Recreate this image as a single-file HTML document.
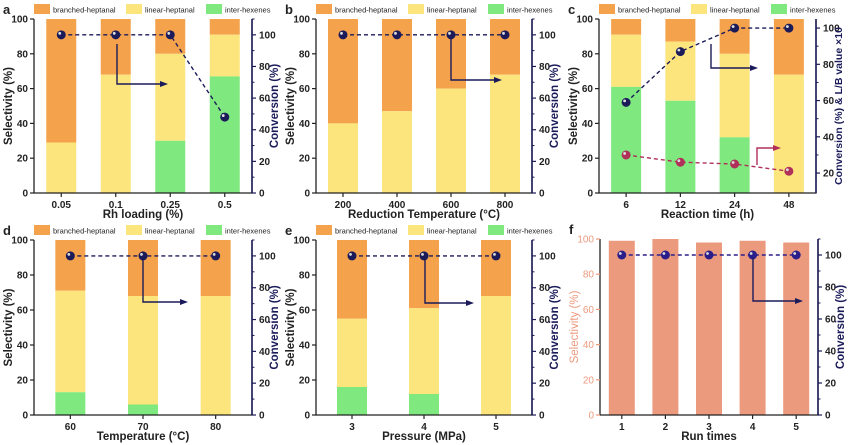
<!DOCTYPE html>
<html><head><meta charset="utf-8">
<style>
html,body{margin:0;padding:0;background:#fff;}
svg{display:block;font-family:"Liberation Sans",sans-serif;}
</style></head>
<body>
<svg id="fig" width="850" height="445" viewBox="0 0 850 445" xmlns="http://www.w3.org/2000/svg"></svg>
<script>
// Panel a
const aCats = ["0.05","0.1","0.25","0.5"];
const aInter = [0, 0, 30, 67];
const aLinear = [29, 68, 50, 24];
const aConv = [100, 100, 100, 48];
// Panel b
const bCats = ["200","400","600","800"];
const bInter = [0, 0, 0, 0];
const bLinear = [40, 47, 60, 68];
const bConv = [100, 100, 100, 100];
// Panel c
const cCats = ["6","12","24","48"];
const cInter = [61, 53, 32, 0];
const cLinear = [30, 34, 48, 68];
const cConv = [59, 87, 100, 100];
const cLB = [30, 26, 25, 21];
// Panel d
const dCats = ["60","70","80"];
const dInter = [13, 6, 0];
const dLinear = [58, 62, 68];
const dConv = [100, 100, 100];
// Panel e
const eCats = ["3","4","5"];
const eInter = [16, 12, 0];
const eLinear = [39, 49, 68];
const eConv = [100, 100, 100];
// Panel f
const fCats = ["1","2","3","4","5"];
const fSel = [99, 100, 98, 99, 98];
const fConv = [100, 100, 100, 100, 100];
const leftTicks = ["0","20","40","60","80","100"];
const rightTicks = ["0","20","40","60","80","100"];
const rightTicksC = ["20","40","60","80","100"];

const NS = "http://www.w3.org/2000/svg";
const svg = document.getElementById("fig");
function mk(tag, attrs, parent, text){
  const e = document.createElementNS(NS, tag);
  for (const k in attrs) e.setAttribute(k, attrs[k]);
  if (text !== undefined) e.textContent = text;
  (parent || svg).appendChild(e);
  return e;
}
const ORANGE = "#f5a24c", YELLOW = "#fbe57c", GREEN = "#7fe87e", NAVY = "#1b1b5a", SALMON = "#ec9a7e";

function panel(cfg){
  const g = mk("g", {});
  
  
  const {x0, x1, yT, yB} = cfg;
  const n = cfg.cats.length;
  const step = (x1 - x0) / n;
  const xc = i => x0 + (i + 0.5) * step;
  const yL = v => yB - (v / 100) * (yB - yT);
  const rMin = cfg.rMin, rMax = cfg.rMax;
  const yR = v => yB - (v - rMin) / (rMax - rMin) * (yB - yT);
  const bw = cfg.bw || 30;
  cfg.cats.forEach((c, i) => {
    if (cfg.single){
      const r = mk("rect", {x: xc(i) - bw/2, y: yL(cfg.single[i]), width: bw, height: yB - yL(cfg.single[i]), fill: SALMON}, g);
      
      
      return;
    }
    const inter = cfg.inter[i], lin = cfg.linear[i];
    const top = inter + lin;
    const r1 = mk("rect", {x: xc(i) - bw/2, y: yL(100), width: bw, height: yL(top) - yL(100), fill: ORANGE}, g);
    
    
    const r2 = mk("rect", {x: xc(i) - bw/2, y: yL(top), width: bw, height: yL(inter) - yL(top), fill: YELLOW}, g);
    
    
    if (inter > 0){
      const r3 = mk("rect", {x: xc(i) - bw/2, y: yL(inter), width: bw, height: yB - yL(inter), fill: GREEN}, g);
      
      
    }
  });
  const ax = mk("path", {d: `M${x0},${yT} V${yB} H${x1} V${yT}`, fill: "none", stroke: "#222", "stroke-width": 1.3}, g);
  
  
  mk("line", {x1: x1, y1: yT, x2: x1, y2: yB, stroke: NAVY, "stroke-width": 1.5}, g);
  const lcol = cfg.single ? SALMON : "#222";
  leftTicks.forEach(t => {
    const y = yL(+t);
    mk("line", {x1: x0 - 4, y1: y, x2: x0, y2: y, stroke: lcol, "stroke-width": 1.2}, g);
    const tx = mk("text", {x: x0 - 6, y: y + 3.5, "text-anchor": "end", "font-size": 10, "font-weight": cfg.single ? "normal" : "bold", fill: lcol}, g, t);
    
    
  });
  cfg.cats.forEach((c, i) => {
    mk("line", {x1: xc(i), y1: yB, x2: xc(i), y2: yB + 4, stroke: "#222", "stroke-width": 1.2}, g);
    const tx = mk("text", {x: xc(i), y: yB + 15, "text-anchor": "middle", "font-size": 10, "font-weight": "bold", fill: "#222"}, g, c);
    
    
  });
  (cfg.rTicks).forEach(t => {
    const y = yR(+t);
    mk("line", {x1: x1, y1: y, x2: x1 + 4, y2: y, stroke: NAVY, "stroke-width": 1.2}, g);
    const my = yR(+t + 10);
    if (+t + 10 <= rMax) mk("line", {x1: x1, y1: my, x2: x1 + 2.5, y2: my, stroke: NAVY, "stroke-width": 1}, g);
    const tx = mk("text", {x: x1 + 7, y: y + 3.5, "font-size": 10, "font-weight": "bold", fill: "#222"}, g, t);
    
    
  });
  const xt = mk("text", {x: (x0 + x1) / 2, y: yB + 25, "text-anchor": "middle", "font-size": 11.5, "font-weight": "bold", fill: "#222"}, g, cfg.xTitle);
  
  
  const lt = mk("text", {x: 0, y: 0, transform: `translate(${x0 - 22},${(yT + yB) / 2}) rotate(-90)`, "text-anchor": "middle", "font-size": 11.5, "font-weight": cfg.single ? "normal" : "bold", fill: lcol}, g, "Selectivity (%)");
  
  
  const rt = mk("text", {x: 0, y: 0, transform: `translate(${x1 + 26},${(yT + yB) / 2}) rotate(-90)`, "text-anchor": "middle", "font-size": cfg.rFont || 11.5, "font-weight": "bold", fill: NAVY}, g, cfg.rTitle);
  
  
  const pl = mk("text", {x: x0 - 31, y: yT - 5, "font-size": 13, "font-weight": "bold", fill: "#222"}, g, cfg.id);
  
  
  if (!cfg.single){
    const ly = yT - 15;
    const items = [["branched-heptanal", ORANGE, 0], ["linear-heptanal", YELLOW, 92], ["inter-hexenes", GREEN, 172]];
    items.forEach(it => {
      const lg = mk("g", {}, g);
      
      
      mk("rect", {x: x0 + it[2], y: ly, width: 16, height: 10, fill: it[1]}, lg);
      mk("text", {x: x0 + it[2] + 19, y: ly + 8.5, "font-size": 7.5, fill: "#222"}, lg, it[0]);
    });
  }
  function series(vals, color, name){
    const pts = vals.map((v, i) => [xc(i), yR(v)]);
    const p = mk("polyline", {points: pts.map(p => p.join(",")).join(" "), fill: "none", stroke: color, "stroke-width": 1.4, "stroke-dasharray": "4,3"}, g);
    
    
    pts.forEach(pt => {
      const c = mk("circle", {cx: pt[0], cy: pt[1], r: 4.5, fill: color}, g);
      
      
      mk("circle", {cx: pt[0] - 1.5, cy: pt[1] - 1.5, r: 1.4, fill: "#ddd"}, g);
    });
  }
  series(cfg.conv, cfg.single ? "#2a1f8a" : NAVY, "conversion");
  if (cfg.lb) series(cfg.lb, "#b0305a", "lb-ratio");
  const a = cfg.arrow;
  const ar = mk("path", {d: `M${a[0]},${a[1]} V${a[2]} H${a[3]}`, fill: "none", stroke: NAVY, "stroke-width": 1.4}, g);
  
  
  mk("path", {d: `M${a[3]+6},${a[2]} l-8,-3 v6 z`, fill: NAVY}, g);
  if (cfg.arrow2){
    const b = cfg.arrow2;
    mk("path", {d: `M${b[0]},${b[1]} V${b[2]} H${b[3]}`, fill: "none", stroke: "#b0305a", "stroke-width": 1.4}, g);
    mk("path", {d: `M${b[3]+6},${b[2]} l-8,-3 v6 z`, fill: "#b0305a"}, g);
  }
}

panel({id:"a", x0:34, x1:252, yT:19, yB:193, cats:aCats, inter:aInter, linear:aLinear, conv:aConv, rMin:0, rMax:110, rTicks:rightTicks, xTitle:"Rh loading (%)", rTitle:"Conversion (%)", arrow:[117,44,84,162]});
panel({id:"b", x0:316, x1:532, yT:19, yB:193, cats:bCats, inter:bInter, linear:bLinear, conv:bConv, rMin:0, rMax:110, rTicks:rightTicks, xTitle:"Reduction Temperature (°C)", rTitle:"Conversion (%)", arrow:[451,36,80,496]});
panel({id:"c", x0:599, x1:816, yT:19, yB:193, cats:cCats, inter:cInter, linear:cLinear, conv:cConv, lb:cLB, rMin:9, rMax:105, rTicks:rightTicksC, rFont:10.5, xTitle:"Reaction time (h)", rTitle:"Conversion (%) & L/B value ×10", arrow:[711,44,68,752], arrow2:[757,165,148,775]});
panel({id:"d", x0:34, x1:252, yT:240, yB:415, cats:dCats, inter:dInter, linear:dLinear, conv:dConv, rMin:0, rMax:110, rTicks:rightTicks, xTitle:"Temperature (°C)", rTitle:"Conversion (%)", arrow:[143,258,302,182]});
panel({id:"e", x0:316, x1:532, yT:240, yB:415, cats:eCats, inter:eInter, linear:eLinear, conv:eConv, rMin:0, rMax:110, rTicks:rightTicks, xTitle:"Pressure (MPa)", rTitle:"Conversion (%)", arrow:[425,258,303,468]});
panel({id:"f", x0:600, x1:818, yT:239, yB:415, bw:26, cats:fCats, single:fSel, conv:fConv, rMin:0, rMax:110, rTicks:rightTicks, xTitle:"Run times", rTitle:"Conversion (%)", arrow:[753,258,301,797]});
</script>
</body></html>
